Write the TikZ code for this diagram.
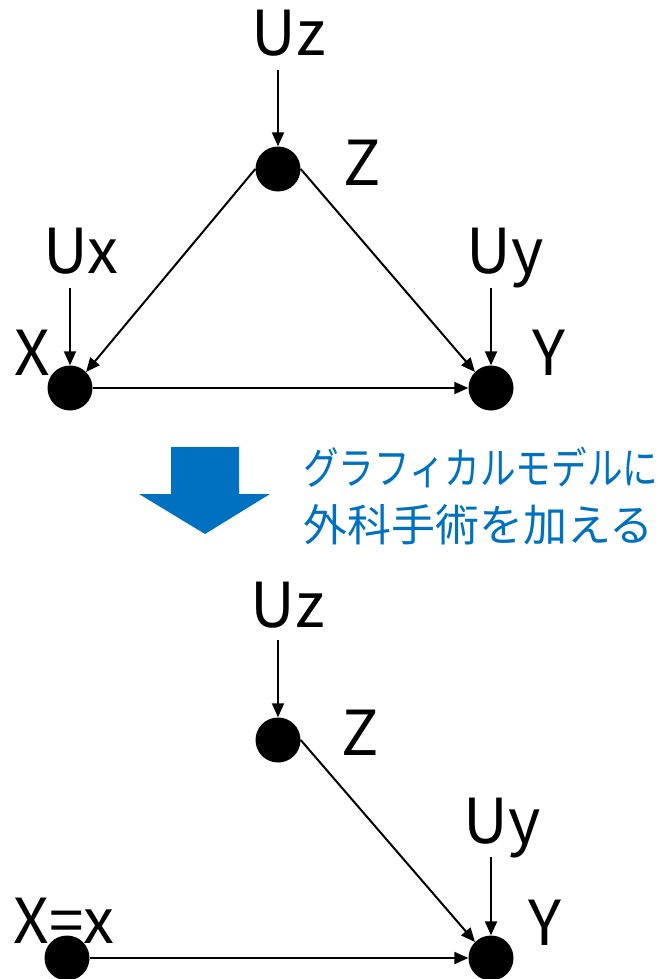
\documentclass[tikz,border=0pt]{standalone}
\usepackage{fontspec}
\setmainfont{Noto Sans CJK JP}
\usetikzlibrary{arrows.meta}
\definecolor{officeblue}{RGB}{0,112,192}
\tikzset{
  dot/.style={circle,fill=black,minimum size=45pt,inner sep=0pt},
  lbl/.style={anchor=base,inner sep=0pt,font=\fontsize{62}{62}\selectfont},
  jp/.style={anchor=base west,inner sep=0pt,text=officeblue,font=\fontsize{44}{44}\selectfont},
  edge/.style={line width=2pt,-{Triangle[length=14pt,width=12pt]}}
}
\begin{document}
\begin{tikzpicture}[x=1pt,y=-1pt]
\useasboundingbox (0,0) rectangle (662,979);
% ---- top graph ----
\node[dot] (Z) at (278,169) {};
\node[dot] (X) at (70,388) {};
\node[dot] (Y) at (491,388) {};
\node[lbl] (Uz) at (289,56) {Uz};
\node[lbl] (Zl) at (362,185) {Z};
\node[lbl] (Ux) at (81,273) {Ux};
\node[lbl] (Uy) at (505,273) {Uy};
\node[lbl] (Xl) at (32,375) {X};
\node[lbl] (Yl) at (549,375) {Y};
\coordinate (uzs) at (278,70);
\coordinate (uxs) at (70,288);
\coordinate (uys) at (491,288);
\draw[edge] (uzs) -- (Z.north);
\draw[edge] (uxs) -- (X.north);
\draw[edge] (uys) -- (Y.north);
\draw[edge] (Z.west) -- (X.north east);
\draw[edge] (Z.east) -- (Y.north west);
\draw[edge] (X.east) -- (Y.west);
% ---- middle ----
\fill[officeblue] (171,447) -- (239,447) -- (239,494) -- (270,494) -- (205,534) -- (139,494) -- (171,494) -- cycle;
\node[jp] (t1) at (303,484) {\resizebox{355pt}{\height}{グラフィカルモデルに}};
\node[jp] (t2) at (303,541) {外科手術を加える};
% ---- bottom graph ----
\node[dot] (Z2) at (278,740) {};
\node[dot] (X2) at (67,958) {};
\node[dot] (Y2) at (491,958) {};
\node[lbl] (Uz2) at (288,627) {Uz};
\node[lbl] (Zl2) at (360,755) {Z};
\node[lbl] (Uy2) at (502,843) {Uy};
\node[lbl] (Xl2) at (64,943) {X=x};
\node[lbl] (Yl2) at (545,945) {Y};
\coordinate (uzs2) at (278,640);
\coordinate (uys2) at (491,857);
\draw[edge] (uzs2) -- (Z2.north);
\draw[edge] (uys2) -- (Y2.north);
\draw[edge] (Z2.east) -- (Y2.north west);
\draw[edge] (X2.east) -- (Y2.west);
\end{tikzpicture}
\end{document}
